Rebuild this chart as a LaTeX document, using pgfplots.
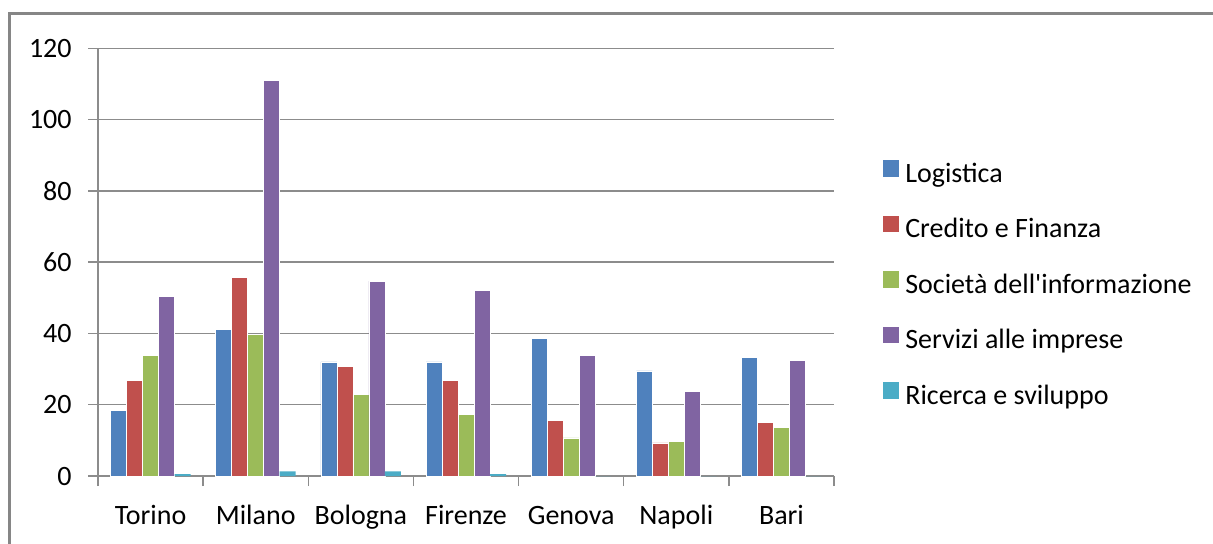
\documentclass[border=0pt]{standalone}
\usepackage{fontspec}
\setmainfont{Carlito}
\usepackage{pgfplots}
\pgfplotsset{compat=1.18}

\definecolor{cLog}{HTML}{4F81BD}
\definecolor{cCred}{HTML}{C0504D}
\definecolor{cSoc}{HTML}{9BBB59}
\definecolor{cServ}{HTML}{8064A2}
\definecolor{cRic}{HTML}{4BACC6}
\definecolor{gridgray}{HTML}{8C8C8C}
\definecolor{framegray}{HTML}{868686}

\newcommand{\chartfont}{\fontsize{14}{17}\selectfont}

\begin{document}
\begin{tikzpicture}
% page = 1213x543 px at 0.5pt per px
\useasboundingbox (0,0) rectangle (606.5pt,271.5pt);
\draw[framegray, line width=1.5pt] (4.75pt,-5pt) -- (4.75pt,264.75pt) -- (615pt,264.75pt);

\begin{axis}[
    at={(49pt,33.5pt)}, anchor=south west,
    scale only axis,
    width=368pt, height=213.85pt,
    ybar=0pt, bar width=8pt,
    xmin=-0.5, xmax=6.5,
    ymin=0, ymax=120,
    xtick={-0.5,0.5,...,6.5},
    xticklabels={Torino,Milano,Bologna,Firenze,Genova,Napoli,Bari,},
    xticklabel style={xshift=26.29pt, yshift=-9pt, inner sep=0pt, text height=10pt, text depth=3pt},
    ytick={0,20,...,120},
    yticklabel style={inner sep=0pt, xshift=-8pt},
    ymajorgrids=true,
    grid style={draw=gridgray, line width=0.7pt},
    axis x line*=bottom, axis y line*=left,
    axis line style={draw=gridgray, line width=0.7pt, -},
    tick align=outside,
    major tick length=5pt,
    tick style={draw=gridgray, line width=0.7pt},
    tick label style={font=\chartfont, black},
    /pgf/number format/assume math mode=true,
    legend cell align=left,
    legend image code/.code={\path[#1, draw=none] (0pt,-0.8pt) rectangle (8pt,7.5pt);},
    legend style={
        at={(1.067,0.446)}, anchor=west,
        draw=none, fill=none, inner sep=0pt, outer sep=0pt,
        font=\chartfont, row sep=13.7pt,
        nodes={inner sep=0pt, text height=10pt, text depth=3pt},
        /tikz/every odd column/.append style={column sep=3pt},
    },
]
\addplot[fill=cLog, draw=white, line width=0.3pt]
    coordinates {(0,18.5) (1,41.2) (2,32.0) (3,32.0) (4,38.6) (5,29.5) (6,33.3)};
\addplot[fill=cCred, draw=white, line width=0.3pt]
    coordinates {(0,26.8) (1,55.7) (2,30.8) (3,26.8) (4,15.5) (5,9.3) (6,15.1)};
\addplot[fill=cSoc, draw=white, line width=0.3pt]
    coordinates {(0,33.8) (1,39.8) (2,22.9) (3,17.2) (4,10.7) (5,9.8) (6,13.7)};
\addplot[fill=cServ, draw=white, line width=0.3pt]
    coordinates {(0,50.4) (1,111.0) (2,54.7) (3,52.1) (4,33.8) (5,23.8) (6,32.5)};
\addplot[fill=cRic, draw=none]
    coordinates {(0,0.5) (1,1.3) (2,1.3) (3,0.5) (4,0) (5,0) (6,0)};
\legend{Logistica, Credito e Finanza, Società dell\textquotesingle informazione, Servizi alle imprese, Ricerca e sviluppo}
\end{axis}
\end{tikzpicture}
\end{document}
